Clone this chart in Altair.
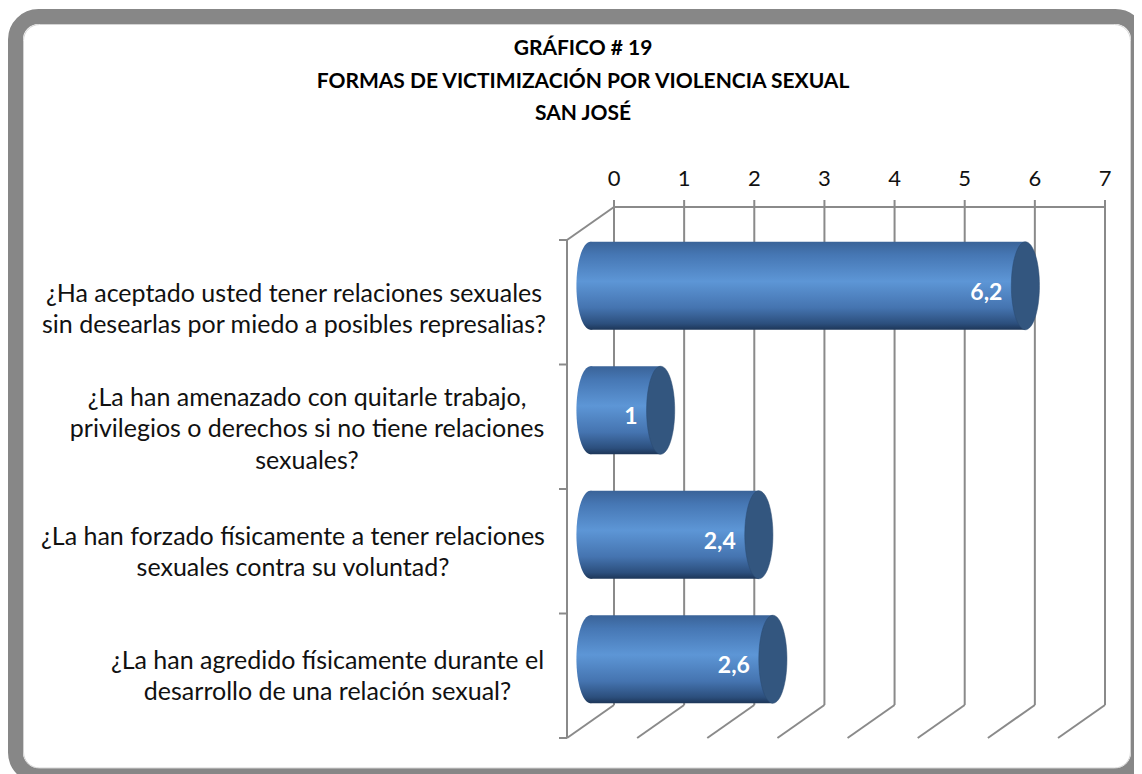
import altair as alt
import pandas as pd

# ---------------- data ----------------
categories = [
    "¿Ha aceptado usted tener relaciones sexuales\nsin desearlas por miedo a posibles represalias?",
    "¿La han amenazado con quitarle trabajo,\nprivilegios o derechos si no tiene relaciones\nsexuales?",
    "¿La han forzado físicamente a tener relaciones\nsexuales contra su voluntad?",
    "¿La han agredido físicamente durante el\ndesarrollo de una relación sexual?",
]
values = [6.2, 1, 2.4, 2.6]
value_labels = ["6,2", "1", "2,4", "2,6"]
ticks = [0, 1, 2, 3, 4, 5, 6, 7]
title_lines = ["GRÁFICO # 19", "FORMAS DE VICTIMIZACIÓN POR VIOLENCIA SEXUAL", "SAN JOSÉ"]

df = pd.DataFrame({"category": categories, "value": values, "label": value_labels,
                   "zero": [0] * len(values)})
tdf = pd.DataFrame({"tick": ticks})
zdf = pd.DataFrame({"zero": [0], "top": [ticks[-1]]})

# ---------------- layout / style ----------------
W, H = 491, 498           # middle (bar) plane
DX, DY = 23.5, 16.5       # half depth offset
FONT = "Lato"
GRID = "#8a8a8a"
STEP = H / 4
label_dx = [-296.5, -283.5, -297.5, -263]
label_dy = [8, -12.5, 2, 1.5]

xs = alt.Scale(domain=[0, 7], nice=False, zero=True)
ys = alt.Scale(domain=categories, paddingInner=0.293, paddingOuter=0.1466)
X = alt.X("value:Q", scale=xs, axis=None)
Y = alt.Y("category:N", scale=ys, sort=categories, axis=None)
XZ = alt.X("zero:Q", scale=xs, axis=None)

base = alt.Chart(df)
tbase = alt.Chart(tdf)
zbase = alt.Chart(zdf)

# frame
frame = zbase.mark_rect(
    fill="white", stroke="#878787", strokeWidth=15, cornerRadius=23
).encode(
    x=alt.value(-575), x2=alt.value(548), y=alt.value(-207), y2=alt.value(552)
)
frame_inner = zbase.mark_rect(
    fill="white", stroke="#d4d4d4", strokeWidth=1, cornerRadius=16
).encode(
    x=alt.value(-567), x2=alt.value(540), y=alt.value(-199), y2=alt.value(544.5)
)

# back wall verticals
back_v = tbase.mark_rule(color=GRID, strokeWidth=2, xOffset=DX).encode(
    x=alt.X("tick:Q", scale=xs, axis=None),
    y=alt.value(-DY - 7), y2=alt.value(H - DY),
)
back_top = zbase.mark_rule(color=GRID, strokeWidth=2, xOffset=DX, x2Offset=DX).encode(
    x=XZ, x2="top:Q", y=alt.value(-DY)
)
floor_diag = tbase.mark_rule(color=GRID, strokeWidth=2, xOffset=DX, x2Offset=-DX).encode(
    x=alt.X("tick:Q", scale=xs, axis=None), x2="tick:Q",
    y=alt.value(H - DY), y2=alt.value(H + DY),
)
top_diag = zbase.mark_rule(color=GRID, strokeWidth=2, xOffset=DX, x2Offset=-DX).encode(
    x=XZ, x2="zero:Q", y=alt.value(-DY), y2=alt.value(DY),
)
front_axis = zbase.mark_rule(color=GRID, strokeWidth=2, xOffset=-DX).encode(
    x=XZ, y=alt.value(DY), y2=alt.value(H + DY)
)
front_ticks = [
    zbase.mark_rule(color=GRID, strokeWidth=2, xOffset=-DX - 8, x2Offset=-DX).encode(
        x=XZ, x2="zero:Q", y=alt.value(DY + STEP * k)
    )
    for k in range(5)
]
tick_text = tbase.mark_text(font=FONT, fontSize=22, color="#111111", dx=DX, baseline="middle").encode(
    x=alt.X("tick:Q", scale=xs, axis=None), y=alt.value(-45), text="tick:Q"
)

# bars
grad = alt.Gradient(
    gradient="linear", x1=0, x2=0, y1=0, y2=1,
    stops=[
        alt.GradientStop(offset=0, color="#3a6398"),
        alt.GradientStop(offset=0.15, color="#4677b4"),
        alt.GradientStop(offset=0.45, color="#5d96d6"),
        alt.GradientStop(offset=0.75, color="#4574b0"),
        alt.GradientStop(offset=0.93, color="#2c4f7d"),
        alt.GradientStop(offset=1, color="#1d3658"),
    ],
)
ELL = "M 0 -1 A 0.32 1 0 0 1 0 1 A 0.32 1 0 0 1 0 -1 Z"
left_cap = base.mark_point(shape=ELL, filled=True, fill=grad, size=88 * 88, opacity=1, strokeWidth=0).encode(
    x=XZ, y=Y
)
body = base.mark_bar(fill=grad, strokeWidth=0).encode(x=X, x2="zero:Q", y=Y)
right_cap = base.mark_point(shape=ELL, filled=True, fill="#33567f", size=88 * 88, opacity=1,
                            stroke="#2b4a70", strokeWidth=0.5).encode(x=X, y=Y)
val_text = base.mark_text(font=FONT, fontSize=23, fontWeight="bold", color="white",
                          align="right", baseline="middle", dx=-23, dy=7).encode(
    x=X, y=Y, text="label:N"
)

# category labels
cat_layers = []
for i, c in enumerate(categories):
    cat_layers.append(
        alt.Chart(pd.DataFrame({"category": [c], "zero": [0]})).mark_text(
            font=FONT, fontSize=25, color="#111111", align="center", baseline="middle",
            lineBreak="\n", lineHeight=31.5, dx=label_dx[i], dy=label_dy[i]
        ).encode(x=XZ, y=Y, text="category:N")
    )

title = zbase.mark_text(
    font=FONT, fontSize=21, fontWeight="bold", color="#000000", align="center",
    baseline="middle", lineHeight=32.5, lineBreak="\n"
).encode(x=alt.value(-7.5), y=alt.value(-174.5), text=alt.value("\n".join(title_lines)))

chart = alt.layer(
    frame, frame_inner, back_v, back_top, floor_diag, top_diag, front_axis, *front_ticks, tick_text,
    left_cap, body, right_cap, val_text, *cat_layers, title
).properties(
    width=W, height=H,
    autosize=alt.AutoSizeParams(type="none"),
    padding={"left": 582.5, "top": 215.5, "right": 52.5, "bottom": 52},
).configure_view(stroke=None)

chart.save("out.html", embed_options={"renderer": "svg", "actions": False})
